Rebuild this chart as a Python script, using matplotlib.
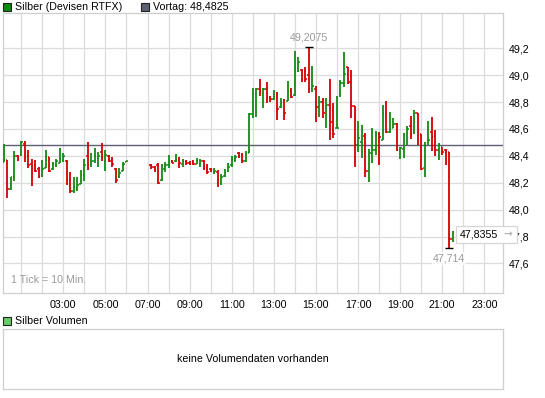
import matplotlib
matplotlib.use("Agg")
import matplotlib.pyplot as plt
from matplotlib.ticker import FuncFormatter, MultipleLocator, FixedLocator
from matplotlib.patches import Rectangle
import numpy as np
import pandas as pd

plt.rcParams['font.family'] = ['Liberation Sans', 'DejaVu Sans']

# 10-minute ticks, two sessions with a gap
times1 = pd.date_range("2011-01-01 00:10", "2011-01-01 06:00", freq="10min")
times2 = pd.date_range("2011-01-01 07:10", "2011-01-01 21:30", freq="10min")

opens1 = [48.355, 48.37, 48.15, 48.24, 48.40, 48.405, 48.49, 48.40, 48.34, 48.33,
          48.30, 48.25, 48.31, 48.39, 48.30, 48.33, 48.35, 48.37, 48.36, 48.22,
          48.14, 48.15, 48.19, 48.26, 48.40, 48.33, 48.36, 48.35, 48.43, 48.36,
          48.40, 48.37, 48.30, 48.24, 48.29, 48.355]
highs1 = [48.486, 48.37, 48.245, 48.436, 48.407, 48.511, 48.511, 48.444, 48.377, 48.37,
          48.32, 48.37, 48.444, 48.394, 48.357, 48.377, 48.461, 48.419, 48.37, 48.278,
          48.246, 48.246, 48.295, 48.377, 48.501, 48.419, 48.461, 48.431, 48.493, 48.444,
          48.407, 48.394, 48.313, 48.308, 48.357, 48.362]
lows1 = [48.352, 48.085, 48.147, 48.213, 48.362, 48.402, 48.352, 48.308, 48.179, 48.278,
         48.238, 48.246, 48.308, 48.283, 48.295, 48.32, 48.345, 48.357, 48.184, 48.122,
         48.122, 48.139, 48.189, 48.213, 48.295, 48.32, 48.345, 48.32, 48.362, 48.288,
         48.352, 48.32, 48.196, 48.238, 48.288, 48.352]
closes1 = [48.37, 48.15, 48.24, 48.40, 48.375, 48.50, 48.39, 48.33, 48.31, 48.29,
           48.245, 48.30, 48.40, 48.29, 48.34, 48.36, 48.38, 48.40, 48.21, 48.14,
           48.17, 48.18, 48.26, 48.33, 48.33, 48.36, 48.40, 48.40, 48.39, 48.41,
           48.36, 48.34, 48.22, 48.27, 48.34, 48.36]

opens2 = [48.33, 48.32, 48.33, 48.22, 48.30, 48.33, 48.36, 48.36, 48.37, 48.34,
          48.36, 48.35, 48.355, 48.34, 48.34, 48.36, 48.31, 48.30, 48.27, 48.28,
          48.19, 48.25, 48.29, 48.33, 48.37, 48.42, 48.41, 48.36, 48.42, 48.71,
          48.86, 48.90, 48.86, 48.90, 48.84, 48.82, 48.87, 48.76, 48.80, 48.81,
          48.88, 48.85, 49.03, 49.04, 49.03, 49.00, 48.90, 48.90, 48.76, 48.80,
          48.72, 48.78, 48.73, 48.605, 48.86, 48.94, 49.06, 48.95, 48.77, 48.48,
          48.50, 48.55, 48.29, 48.42, 48.44, 48.56, 48.52, 48.72, 48.58, 48.61,
          48.64, 48.44, 48.45, 48.56, 48.62, 48.58, 48.715, 48.56, 48.31, 48.51,
          48.58, 48.55, 48.44, 48.465, 48.44, 48.43, 47.78]
highs2 = [48.337, 48.327, 48.345, 48.337, 48.352, 48.407, 48.37, 48.412, 48.395, 48.377,
          48.37, 48.362, 48.37, 48.382, 48.377, 48.37, 48.337, 48.308, 48.308, 48.295,
          48.263, 48.303, 48.345, 48.402, 48.407, 48.431, 48.42, 48.434, 48.717, 48.908,
          48.908, 48.972, 48.908, 48.952, 48.848, 48.89, 48.878, 48.833, 48.823, 48.957,
          48.908, 49.183, 49.138, 49.046, 49.064, 49.2075, 49.071, 48.922, 48.848, 48.828,
          48.833, 48.972, 48.791, 48.848, 48.965, 49.17, 49.064, 49.04, 48.77, 48.662,
          48.63, 48.573, 48.449, 48.605, 48.588, 48.58, 48.778, 48.81, 48.729, 48.679,
          48.647, 48.469, 48.573, 48.622, 48.697, 48.741, 48.721, 48.563, 48.506, 48.662,
          48.687, 48.593, 48.498, 48.469, 48.449, 48.432, 47.84]
lows2 = [48.303, 48.283, 48.189, 48.213, 48.283, 48.313, 48.345, 48.352, 48.308, 48.32,
         48.332, 48.332, 48.332, 48.337, 48.32, 48.295, 48.263, 48.278, 48.263, 48.171,
         48.184, 48.246, 48.283, 48.32, 48.357, 48.382, 48.345, 48.354, 48.419, 48.685,
         48.692, 48.848, 48.759, 48.791, 48.803, 48.816, 48.667, 48.754, 48.667, 48.808,
         48.828, 48.848, 49.022, 48.952, 48.947, 48.865, 48.878, 48.655, 48.692, 48.685,
         48.605, 48.518, 48.531, 48.605, 48.84, 48.915, 48.932, 48.68, 48.32, 48.432,
         48.382, 48.241, 48.208, 48.345, 48.407, 48.332, 48.518, 48.568, 48.573, 48.605,
         48.439, 48.374, 48.382, 48.481, 48.523, 48.563, 48.481, 48.295, 48.246, 48.481,
         48.439, 48.399, 48.37, 48.407, 48.332, 47.714, 47.762]
closes2 = [48.32, 48.29, 48.20, 48.33, 48.33, 48.36, 48.35, 48.37, 48.35, 48.36,
           48.345, 48.34, 48.34, 48.36, 48.36, 48.31, 48.28, 48.285, 48.29, 48.22,
           48.24, 48.28, 48.32, 48.38, 48.39, 48.39, 48.36, 48.42, 48.709, 48.86,
           48.90, 48.88, 48.90, 48.83, 48.82, 48.87, 48.75, 48.79, 48.72, 48.88,
           48.84, 49.04, 49.10, 48.97, 48.97, 48.90, 48.92, 48.76, 48.80, 48.72,
           48.78, 48.65, 48.56, 48.61, 48.94, 49.01, 48.94, 48.77, 48.48, 48.53,
           48.53, 48.29, 48.42, 48.44, 48.56, 48.54, 48.72, 48.58, 48.60, 48.64,
           48.44, 48.46, 48.56, 48.60, 48.56, 48.72, 48.55, 48.30, 48.49, 48.52,
           48.54, 48.44, 48.48, 48.43, 48.43, 47.78, 47.8355]

x_ticks = [3, 5, 7, 9, 11, 13, 15, 17, 19, 21, 23]
y_ticks = [47.6, 47.8, 48.0, 48.2, 48.4, 48.6, 48.8, 49.0, 49.2]

prev_close = 48.4825
day_high = 49.2075
day_low = 47.714
last_price = 47.8355

GREEN = '#138a13'
RED = '#d40000'
GRID = '#dcdcdc'
BORDER = '#cfcfcf'


def to_hours(ts):
    return np.array([t.hour + t.minute / 60.0 for t in ts])


def de_num(v, digits):
    return f"{v:.{digits}f}".replace('.', ',')


W, H = 545, 398
fig = plt.figure(figsize=(W / 100, H / 100), dpi=100)

# main price panel
ax = fig.add_axes([3 / W, 1 - 293.3 / H, 500.3 / W, 280 / H])
ax.set_xlim(0.135, 23.90)
ax.set_ylim(47.378, 49.46)

ax.xaxis.set_major_locator(FixedLocator(x_ticks))
ax.xaxis.set_minor_locator(MultipleLocator(1))
ax.xaxis.set_major_formatter(FuncFormatter(lambda v, p: f"{int(round(v)):02d}:00"))
ax.yaxis.set_major_locator(FixedLocator(y_ticks))
ax.yaxis.set_major_formatter(FuncFormatter(lambda v, p: de_num(v, 1)))
ax.yaxis.tick_right()
ax.tick_params(axis='both', which='both', length=0, labelsize=7.7, colors='black')
ax.tick_params(axis='x', pad=5)
ax.tick_params(axis='y', pad=4)
ax.grid(True, which='both', axis='x', color=GRID, linewidth=0.9)
ax.grid(True, which='major', axis='y', color=GRID, linewidth=0.9)
ax.set_axisbelow(True)
for s in ax.spines.values():
    s.set_color(BORDER)
    s.set_linewidth(0.9)

ax.axhline(prev_close, color='#5c6072', linewidth=1.0, zorder=2)

tick_w = 0.075
for times, o, h, l, c in [(times1, opens1, highs1, lows1, closes1),
                          (times2, opens2, highs2, lows2, closes2)]:
    x = to_hours(times)
    o, h, l, c = map(np.array, (o, h, l, c))
    cols = np.where(c >= o, GREEN, RED)
    ax.vlines(x, l, h, colors=cols, linewidth=1.3, zorder=3)
    ax.hlines(o, x - tick_w, x, colors=cols, linewidth=1.1, zorder=3)
    ax.hlines(c, x, x + tick_w, colors=cols, linewidth=1.1, zorder=3)

# day high / low markers
all_h = np.array(highs1 + highs2)
all_l = np.array(lows1 + lows2)
all_x = np.concatenate([to_hours(times1), to_hours(times2)])
xh = all_x[np.argmax(all_h)]
xl = all_x[np.argmin(all_l)]
ax.hlines(day_high, xh - 0.2, xh + 0.2, colors='black', linewidth=1.0, zorder=4)
ax.text(xh, day_high + 0.035, de_num(day_high, 4), color='#9a9a9a', fontsize=7.7,
        ha='center', va='bottom')
ax.hlines(day_low, xl - 0.2, xl + 0.2, colors='black', linewidth=1.0, zorder=4)
ax.text(xl, day_low - 0.04, de_num(day_low, 3), color='#9a9a9a', fontsize=7.7,
        ha='center', va='top',
        bbox=dict(boxstyle='square,pad=0.1', fc='white', ec='none', alpha=0.8))

ax.text(8 / 500.3, 0.03, "1 Tick = 10 Min.", transform=ax.transAxes,
        color='#9a9a9a', fontsize=7.7, ha='left', va='bottom')

# last price box (covers part of the 47,8 axis label, as in the source)
fig.patches.append(Rectangle((456 / W, 1 - 243 / H), 61 / W, 17 / H,
                             transform=fig.transFigure, facecolor='white',
                             edgecolor='#d6d6d6', linewidth=0.9, zorder=5))
fig.text(460 / W, 1 - 234.5 / H, de_num(last_price, 4), fontsize=7.7,
         ha='left', va='center', zorder=6)
fig.text(508 / W, 1 - 234.5 / H, "\u2192", fontsize=7.5, color='#b0b0b0',
         ha='center', va='center', zorder=6, family='DejaVu Sans', fontweight='bold')

# top legend
fig.patches.append(Rectangle((3 / W, 1 - 10.5 / H), 8 / W, 8 / H, transform=fig.transFigure,
                             facecolor='#0a8a0a', edgecolor='#222222', linewidth=0.8))
fig.text(15 / W, 1 - 6.5 / H, "Silber (Devisen RTFX)", fontsize=7.7, va='center', ha='left')
fig.patches.append(Rectangle((141 / W, 1 - 10.5 / H), 8 / W, 8 / H, transform=fig.transFigure,
                             facecolor='#5c6072', edgecolor='#222222', linewidth=0.8))
fig.text(153 / W, 1 - 6.5 / H, "Vortag: " + de_num(prev_close, 4), fontsize=7.7,
         va='center', ha='left')

# volume panel
fig.patches.append(Rectangle((3 / W, 1 - 325 / H), 8 / W, 8 / H, transform=fig.transFigure,
                             facecolor='#66cc66', edgecolor='#222222', linewidth=0.8))
fig.text(15 / W, 1 - 321 / H, "Silber Volumen", fontsize=7.7, va='center', ha='left')

axv = fig.add_axes([3 / W, 1 - 389 / H, 500.3 / W, 59.7 / H])
axv.set_xticks([])
axv.set_yticks([])
for s in axv.spines.values():
    s.set_color(BORDER)
    s.set_linewidth(0.9)
axv.text(0.5, 0.5, "keine Volumendaten vorhanden", transform=axv.transAxes,
         fontsize=7.7, ha='center', va='center')

fig.savefig("out.png", dpi=100)
